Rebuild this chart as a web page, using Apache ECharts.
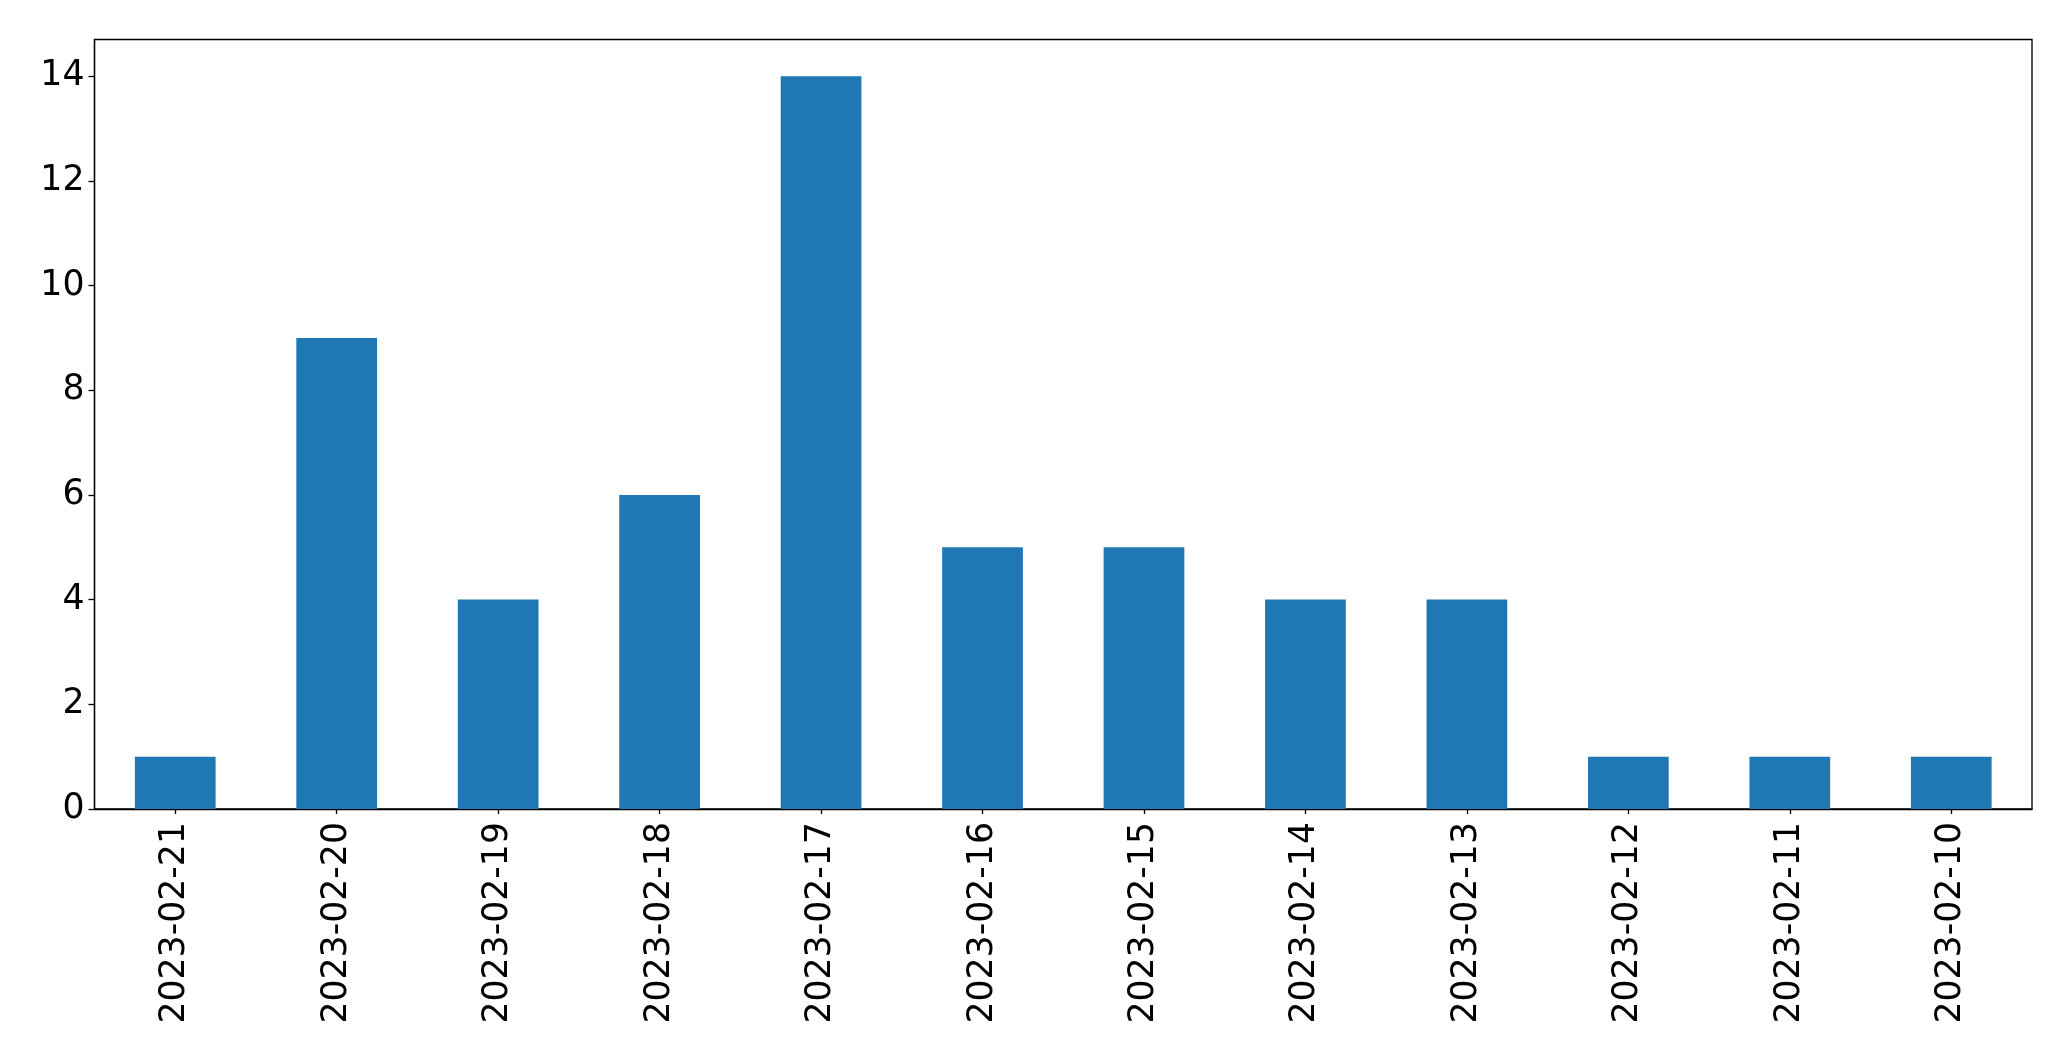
<!DOCTYPE html>
<html>
<head>
<meta charset="utf-8">
<script src="https://cdn.jsdelivr.net/npm/echarts@6/dist/echarts.min.js"></script>
<style>
html,body{margin:0;padding:0;background:#fff;}
#chart{width:2071px;height:1061px;}
</style>
</head>
<body>
<div id="chart"></div>
<script>
const categories = ['2023-02-21','2023-02-20','2023-02-19','2023-02-18','2023-02-17','2023-02-16','2023-02-15','2023-02-14','2023-02-13','2023-02-12','2023-02-11','2023-02-10'];
const values = [1, 9, 4, 6, 14, 5, 5, 4, 4, 1, 1, 1];
const yTicks = [0, 2, 4, 6, 8, 10, 12, 14];

const chart = echarts.init(document.getElementById('chart'), null, {renderer: 'canvas'});
chart.setOption({
  animation: false,
  backgroundColor: '#ffffff',
  grid: {
    left: 94.5, top: 39.5, right: 39, bottom: 252,
    show: true, borderColor: '#000', borderWidth: 1.3, backgroundColor: 'transparent',
    containLabel: false
  },
  xAxis: {
    type: 'category',
    data: categories,
    boundaryGap: true,
    axisLine: {show: true, lineStyle: {color: '#000', width: 1.3}},
    axisTick: {show: true, alignWithLabel: true, length: 5, lineStyle: {color: '#000', width: 1.3}},
    axisLabel: {rotate: 90, fontSize: 34.7, color: '#000', fontFamily: 'DejaVu Sans', margin: 13, interval: 0},
    splitLine: {show: false}
  },
  yAxis: {
    type: 'value',
    min: 0, max: 14.7,
    axisLine: {show: true, lineStyle: {color: '#000', width: 1.3}},
    axisTick: {show: true, length: 6, lineStyle: {color: '#000', width: 1.3}, customValues: yTicks},
    axisLabel: {fontSize: 34.7, color: '#000', fontFamily: 'DejaVu Sans', margin: 10, customValues: yTicks},
    splitLine: {show: false}
  },
  series: [{
    type: 'bar',
    data: values,
    barWidth: '50%',
    itemStyle: {color: '#1f77b4'}
  }]
});
</script>
</body>
</html>
